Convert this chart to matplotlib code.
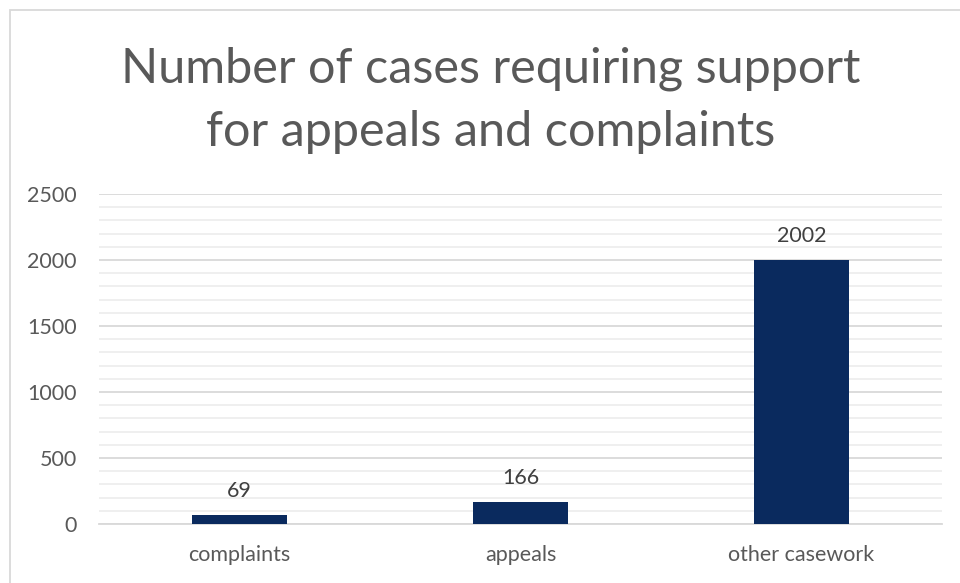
import matplotlib.pyplot as plt
from matplotlib.patches import Rectangle
from matplotlib.ticker import MultipleLocator

categories = ['complaints', 'appeals', 'other casework']
cases = [69, 166, 2002]

plt.rcParams['font.family'] = ['Lato', 'DejaVu Sans']
grey = '#595959'

fig = plt.figure(figsize=(9.6, 5.83), dpi=100)
ax = fig.add_axes([99/960, 1 - 524/583, 843/960, 330/583])

# chart frame
fig.patches.append(Rectangle((10/960, -0.1), 1.2, (583 - 10)/583 + 0.1,
                             transform=fig.transFigure, fill=False,
                             edgecolor='#d9d9d9', linewidth=1.3))

x = range(len(categories))
ax.bar(x, cases, width=0.34, color='#0a2a5e', zorder=3)
for i, v in enumerate(cases):
    ax.annotate(str(v), (i, v), xytext=(0, 10), textcoords='offset points',
                ha='center', va='bottom', fontsize=15.5, color='#404040')

ax.set_xlim(-0.5, 2.5)
ax.set_ylim(0, 2500)
ax.yaxis.set_major_locator(MultipleLocator(500))
ax.yaxis.set_minor_locator(MultipleLocator(100))
ax.grid(axis='y', which='major', color='#d9d9d9', linewidth=1.3, zorder=0)
ax.grid(axis='y', which='minor', color='#eeeeee', linewidth=1.3, zorder=0)
ax.set_xticks(list(x))
ax.set_xticklabels(categories)
ax.tick_params(axis='both', which='both', length=0, labelsize=15.5, colors=grey)
ax.tick_params(axis='x', pad=15)
ax.tick_params(axis='y', pad=16)
for s in ['top', 'right', 'left']:
    ax.spines[s].set_visible(False)
ax.spines['bottom'].set_color('#d9d9d9')
ax.spines['bottom'].set_linewidth(1.3)

fig.text(491/960, 1 - 100/583, 'Number of cases requiring support\nfor appeals and complaints',
         ha='center', va='center', fontsize=35, color=grey, linespacing=1.52)

fig.savefig('out.png', dpi=100)
